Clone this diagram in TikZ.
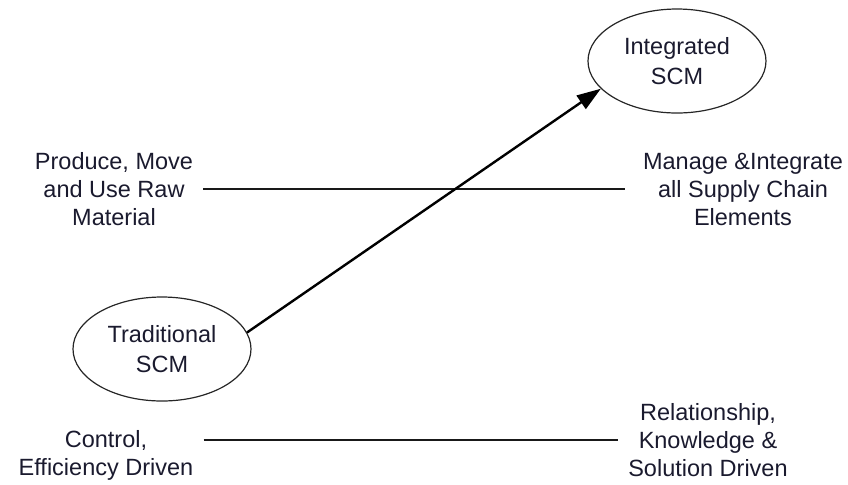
\documentclass[tikz,border=0pt]{standalone}
\usepackage{fontspec}
\setmainfont{Liberation Sans}
\usetikzlibrary{arrows.meta,shapes.geometric}
\definecolor{txtcol}{RGB}{26,26,46}
\tikzset{
  ell/.style={draw=black!85, ellipse, line width=0.6pt, minimum width=89pt, minimum height=52pt, inner sep=0pt, align=center, text=txtcol, font=\fontsize{11.75}{15}\selectfont},
  lbl/.style={align=center, inner sep=5pt, text=txtcol, font=\fontsize{11.75}{14}\selectfont},
  ln/.style={line width=0.75pt, black!90},
  arr/.style={-{Triangle[length=12pt, width=8pt]}, line width=1.2pt},
}
\begin{document}
\begin{tikzpicture}[x=0.5pt, y=-0.5pt]
\useasboundingbox (0,0) rectangle (848,484);

\node[ell] (integ) at (677,61) {Integrated\\SCM};
\node[ell] (trad) at (162,349) {Traditional\\SCM};

\node[lbl] (prod) at (114,189) {Produce, Move\\and Use Raw\\Material};
\node[lbl, inner xsep=9pt] (mang) at (743,189) {Manage \&Integrate\\all Supply Chain\\Elements};
\node[lbl] (ctrl) at (106,455) {Control,\\Efficiency Driven};
\node[lbl] (rel) at (708,440) {Relationship,\\Knowledge \&\\Solution Driven};

\draw[ln] (prod) -- (mang);
\draw[ln] (ctrl.east |- rel.west) -- (rel.west);
\draw[arr] (trad.11) -- (integ.200);

\end{tikzpicture}
\end{document}
